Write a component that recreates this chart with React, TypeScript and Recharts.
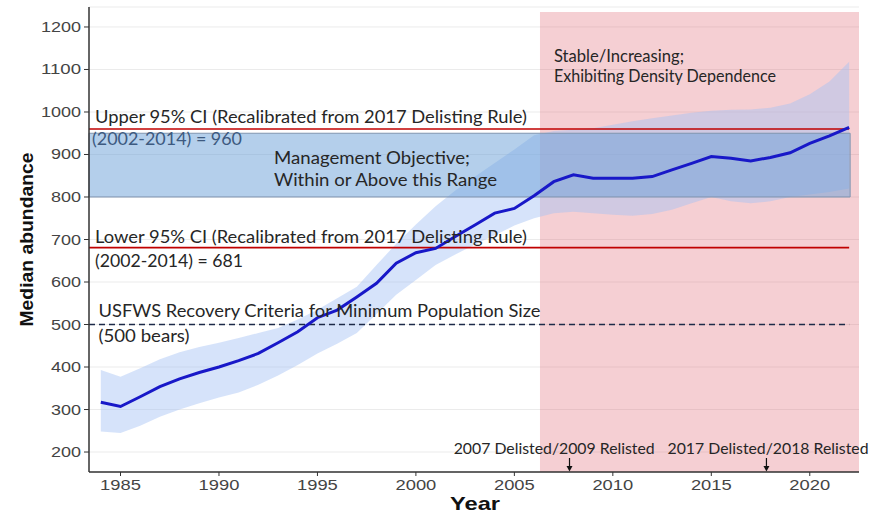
import React from 'react';
import {
  ComposedChart,
  Line,
  Area,
  XAxis,
  YAxis,
  CartesianGrid,
  ReferenceArea,
  ReferenceLine,
  ReferenceDot,
} from 'recharts';

// ---------- data ----------
const years = [
  1984, 1985, 1986, 1987, 1988, 1989, 1990, 1991, 1992, 1993, 1994, 1995, 1996,
  1997, 1998, 1999, 2000, 2001, 2002, 2003, 2004, 2005, 2006, 2007, 2008, 2009,
  2010, 2011, 2012, 2013, 2014, 2015, 2016, 2017, 2018, 2019, 2020, 2021, 2022,
];
const medianAbundance = [
  317, 307, 330, 354, 372, 387, 400, 415, 432, 457, 483, 516, 534,
  565, 597, 644, 669, 679, 707, 734, 762, 773, 803, 836, 852, 844,
  844, 844, 848, 864, 879, 895, 891, 885, 893, 904, 926, 944, 964,
];
const lowerCI = [
  248, 245, 262, 283, 300, 315, 328, 340, 358, 380, 405, 432, 455,
  480, 525, 570, 605, 640, 665, 688, 710, 733, 750, 762, 765, 762,
  758, 756, 760, 770, 785, 800, 790, 785, 790, 800, 806, 812, 820,
];
const upperCI = [
  393, 377, 397, 418, 435, 447, 457, 468, 480, 492, 512, 535, 562,
  589, 640, 690, 735, 778, 815, 848, 880, 912, 945, 955, 958, 962,
  970, 978, 985, 992, 998, 1003, 1005, 1006, 1010, 1020, 1042, 1072, 1118,
];
const xTicks = [1985, 1990, 1995, 2000, 2005, 2010, 2015, 2020];
const yTicks = [200, 300, 400, 500, 600, 700, 800, 900, 1000, 1100, 1200];

const UPPER_CI = 960;
const LOWER_CI = 681;
const RECOVERY_MIN = 500;
const OBJECTIVE_LOW = 800;
const OBJECTIVE_HIGH = 950;
const STABLE_START = 2006.3;
const STABLE_END = 2022.5;
const STABLE_TOP = 1235;
const LAST_YEAR = 2022;
const OBJECTIVE_END = 2022.05;
const X_DOMAIN = [1983.4, 2022.5];
const Y_DOMAIN = [153, 1247];

const listingEvents = [
  { year: 2007.8, label: '2007 Delisted/2009 Relisted' },
  { year: 2017.8, label: '2017 Delisted/2018 Relisted' },
];

const data = years.map((year, i) => ({
  year,
  median: medianAbundance[i],
  band: [lowerCI[i], upperCI[i]],
}));

// ---------- styling helpers ----------
const FONT = "Lato, 'Open Sans', sans-serif";
const AXIS_FONT = "'Liberation Sans', Arial, sans-serif";

const Txt = ({ x, y, w, size = 18, fill = '#262626', anchor = 'start', children }: any) => (
  <text
    x={x}
    y={y}
    fontFamily={FONT}
    fontSize={size}
    fill={fill}
    textAnchor={anchor}
    textLength={w}
    lengthAdjust="spacingAndGlyphs"
  >
    {children}
  </text>
);

const XTick = (p: any) => {
  const s = String(p.payload.value);
  return (
    <text
      x={p.x}
      y={p.y + 11}
      textAnchor="middle"
      fontFamily={AXIS_FONT}
      fontSize={15}
      fill="#444"
      textLength={s.length * 10.2}
      lengthAdjust="spacingAndGlyphs"
    >
      {s}
    </text>
  );
};

const YTick = (p: any) => {
  const s = String(p.payload.value);
  return (
    <text
      x={p.x - 1}
      y={p.y + 5}
      textAnchor="end"
      fontFamily={AXIS_FONT}
      fontSize={14}
      fill="#444"
      textLength={s.length * 10}
      lengthAdjust="spacingAndGlyphs"
    >
      {s}
    </text>
  );
};

export default function App() {
  return (
    <div style={{ position: 'absolute', left: 0, top: 0, background: '#fff' }}>
      <ComposedChart
        width={870}
        height={513}
        data={data}
        margin={{ top: 7, right: 11, bottom: 0, left: 0 }}
      >
        <CartesianGrid horizontal vertical={false} stroke="#ebebeb" strokeWidth={1} />

        <ReferenceArea
          x1={STABLE_START}
          x2={STABLE_END}
          y1={Y_DOMAIN[0]}
          y2={STABLE_TOP}
          fill="#e06d79"
          fillOpacity={0.33}
          stroke="none"
          ifOverflow="visible"
        />

        <Area
          dataKey="band"
          type="linear"
          stroke="none"
          fill="#a4c2f4"
          fillOpacity={0.45}
          isAnimationActive={false}
          activeDot={false}
        />

        <ReferenceArea
          x1={X_DOMAIN[0]}
          x2={OBJECTIVE_END}
          y1={OBJECTIVE_LOW}
          y2={OBJECTIVE_HIGH}
          fill="#6a9fd8"
          fillOpacity={0.5}
          stroke="#8094b0"
          strokeWidth={1}
          ifOverflow="visible"
        />

        <ReferenceLine
          segment={[{ x: X_DOMAIN[0], y: UPPER_CI }, { x: LAST_YEAR, y: UPPER_CI }]}
          stroke="#c00000"
          strokeWidth={1.6}
          ifOverflow="visible"
        />
        <ReferenceLine
          segment={[{ x: X_DOMAIN[0], y: LOWER_CI }, { x: LAST_YEAR, y: LOWER_CI }]}
          stroke="#c00000"
          strokeWidth={1.6}
          ifOverflow="visible"
        />
        <ReferenceLine
          segment={[{ x: X_DOMAIN[0], y: RECOVERY_MIN }, { x: LAST_YEAR, y: RECOVERY_MIN }]}
          stroke="#1c2a48"
          strokeWidth={1.3}
          strokeDasharray="6 4"
          ifOverflow="visible"
        />

        <Line
          dataKey="median"
          type="linear"
          stroke="#1818c8"
          strokeWidth={3}
          dot={false}
          activeDot={false}
          isAnimationActive={false}
        />

        <XAxis
          dataKey="year"
          type="number"
          domain={X_DOMAIN}
          ticks={xTicks}
          allowDataOverflow
          height={41}
          axisLine={{ stroke: '#333', strokeWidth: 1.5 }}
          tickLine={{ stroke: '#333' }}
          tickSize={4}
          tickMargin={3}
          tick={<XTick />}
          label={{
            content: (p: any) => {
              const vb = p.viewBox;
              return (
                <text
                  x={vb.x + vb.width / 2 + 1}
                  y={vb.y + 38}
                  textAnchor="middle"
                  fontFamily={AXIS_FONT}
                  fontWeight="bold"
                  fontSize={19}
                  fill="#111"
                  textLength={50}
                  lengthAdjust="spacingAndGlyphs"
                >
                  Year
                </text>
              );
            },
          }}
        />
        <YAxis
          type="number"
          domain={Y_DOMAIN}
          ticks={yTicks}
          allowDataOverflow
          width={89}
          axisLine={{ stroke: '#333', strokeWidth: 1.5 }}
          tickLine={{ stroke: '#333' }}
          tickSize={5}
          tickMargin={2}
          tick={<YTick />}
          label={{
            content: (p: any) => {
              const vb = p.viewBox;
              const cx = vb.x + 33;
              const cy = vb.y + vb.height / 2;
              return (
                <text
                  x={cx}
                  y={cy}
                  transform={`rotate(-90, ${cx}, ${cy})`}
                  textAnchor="middle"
                  fontFamily={AXIS_FONT}
                  fontWeight="bold"
                  fontSize={19}
                  fill="#111"
                  textLength={174}
                  lengthAdjust="spacingAndGlyphs"
                >
                  Median abundance
                </text>
              );
            },
          }}
        />

        {/* annotations */}
        <ReferenceDot
          x={X_DOMAIN[0]}
          y={UPPER_CI}
          r={0}
          ifOverflow="visible"
          shape={(p: any) => (
            <g>
              <Txt x={p.cx + 6} y={p.cy - 6} w={432}>
                Upper 95% CI (Recalibrated from 2017 Delisting Rule)
              </Txt>
              <Txt x={p.cx + 3} y={p.cy + 16} w={150} fill="#3d5a80">
                (2002-2014) = 960
              </Txt>
            </g>
          )}
        />
        <ReferenceDot
          x={X_DOMAIN[0]}
          y={LOWER_CI}
          r={0}
          ifOverflow="visible"
          shape={(p: any) => (
            <g>
              <Txt x={p.cx + 6} y={p.cy - 4.5} w={432}>
                Lower 95% CI (Recalibrated from 2017 Delisting Rule)
              </Txt>
              <Txt x={p.cx + 6} y={p.cy + 19} w={148}>
                (2002-2014) = 681
              </Txt>
            </g>
          )}
        />
        <ReferenceDot
          x={X_DOMAIN[0]}
          y={OBJECTIVE_HIGH}
          r={0}
          ifOverflow="visible"
          shape={(p: any) => (
            <g>
              <Txt x={p.cx + 185} y={p.cy + 30.5} w={196}>
                Management Objective;
              </Txt>
              <Txt x={p.cx + 185} y={p.cy + 53} w={223}>
                Within or Above this Range
              </Txt>
            </g>
          )}
        />
        <ReferenceDot
          x={X_DOMAIN[0]}
          y={RECOVERY_MIN}
          r={0}
          ifOverflow="visible"
          shape={(p: any) => (
            <g>
              <Txt x={p.cx + 9.5} y={p.cy - 7.3} w={442}>
                USFWS Recovery Criteria for Minimum Population Size
              </Txt>
              <Txt x={p.cx + 9.5} y={p.cy + 17} w={91}>
                (500 bears)
              </Txt>
            </g>
          )}
        />
        <ReferenceDot
          x={STABLE_START}
          y={STABLE_TOP}
          r={0}
          ifOverflow="visible"
          shape={(p: any) => (
            <g>
              <Txt x={p.cx + 14} y={p.cy + 49.5} w={130} size={17}>
                Stable/Increasing;
              </Txt>
              <Txt x={p.cx + 14} y={p.cy + 70} w={222} size={17}>
                Exhibiting Density Dependence
              </Txt>
            </g>
          )}
        />
        {listingEvents.map((ev, i) => (
          <ReferenceDot
            key={ev.label}
            x={ev.year}
            y={Y_DOMAIN[0]}
            r={0}
            ifOverflow="visible"
            shape={(p: any) => (
              <g>
                <line x1={p.cx} y1={p.cy - 14} x2={p.cx} y2={p.cy - 5} stroke="#111" strokeWidth={1.2} />
                <path d={`M${p.cx - 3},${p.cy - 6} L${p.cx + 3},${p.cy - 6} L${p.cx},${p.cy - 0.5} Z`} fill="#111" />
                <Txt x={p.cx + (i === 0 ? -15.3 : 1.6)} y={p.cy - 18} w={201} size={16} anchor="middle">
                  {ev.label}
                </Txt>
              </g>
            )}
          />
        ))}
      </ComposedChart>
    </div>
  );
}
